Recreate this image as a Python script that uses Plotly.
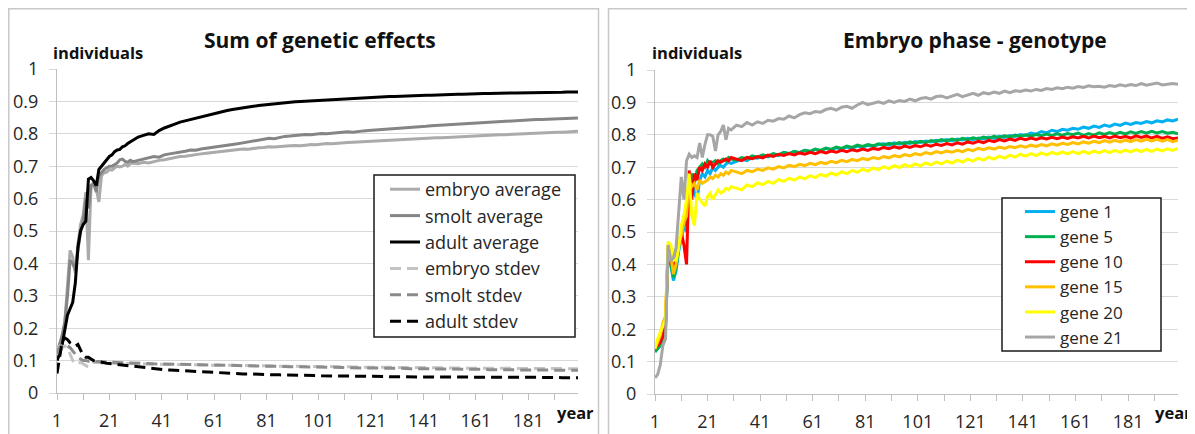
import plotly.graph_objects as go

# ---------------- data ----------------
years = list(range(1, 31)) + list(range(32, 201, 2))

x_tick_vals = [1, 11, 21, 31, 41, 51, 61, 71, 81, 91, 101, 111, 121, 131, 141, 151, 161, 171, 181, 191]
x_tick_text = ["1", "", "21", "", "41", "", "61", "", "81", "", "101", "", "121", "", "141", "", "161", "", "181", ""]
y_tick_vals = [0, 0.1, 0.2, 0.3, 0.4, 0.5, 0.6, 0.7, 0.8, 0.9, 1.0]
y_tick_text = ["0", "0.1", "0.2", "0.3", "0.4", "0.5", "0.6", "0.7", "0.8", "0.9", "1"]

# Left panel: Sum of genetic effects
embryo_avg = [0.13, 0.15, 0.17, 0.22, 0.32, 0.44, 0.42, 0.37, 0.46, 0.52,
              0.55, 0.62, 0.41, 0.64, 0.65, 0.63, 0.59, 0.67, 0.68, 0.682,
              0.69, 0.688, 0.695, 0.70, 0.698, 0.70, 0.705, 0.70, 0.708, 0.71] + \
             [0.708, 0.712, 0.71, 0.715, 0.718, 0.72, 0.724, 0.726, 0.73, 0.731,
              0.734, 0.736, 0.738, 0.74, 0.742, 0.744, 0.746, 0.748, 0.75, 0.751,
              0.753, 0.752, 0.755, 0.757, 0.758, 0.76, 0.759, 0.761, 0.762, 0.763,
              0.764, 0.763, 0.765, 0.767, 0.766, 0.768, 0.77, 0.769, 0.771, 0.772,
              0.773, 0.774, 0.775, 0.776, 0.777, 0.778, 0.779, 0.78, 0.781, 0.781,
              0.782, 0.783, 0.784, 0.785, 0.786, 0.786, 0.787, 0.788, 0.788, 0.789,
              0.79, 0.79, 0.791, 0.792, 0.793, 0.794, 0.795, 0.795, 0.796, 0.797,
              0.797, 0.798, 0.799, 0.799, 0.80, 0.80, 0.801, 0.802, 0.803, 0.804,
              0.805, 0.805, 0.806, 0.807, 0.808]

smolt_avg = [0.13, 0.15, 0.18, 0.22, 0.30, 0.41, 0.40, 0.38, 0.44, 0.50,
             0.53, 0.60, 0.57, 0.64, 0.645, 0.62, 0.67, 0.68, 0.69, 0.695,
             0.70, 0.70, 0.705, 0.71, 0.72, 0.722, 0.715, 0.712, 0.718, 0.714] + \
            [0.718, 0.722, 0.725, 0.73, 0.728, 0.735, 0.738, 0.74, 0.744, 0.746,
             0.75, 0.749, 0.753, 0.755, 0.757, 0.76, 0.761, 0.764, 0.767, 0.769,
             0.772, 0.775, 0.777, 0.78, 0.783, 0.786, 0.785, 0.789, 0.792, 0.793,
             0.795, 0.797, 0.798, 0.797, 0.80, 0.801, 0.80, 0.802, 0.803, 0.804,
             0.806, 0.805, 0.808, 0.809, 0.81, 0.811, 0.812, 0.813, 0.815, 0.816,
             0.817, 0.818, 0.82, 0.821, 0.822, 0.823, 0.825, 0.826, 0.826, 0.828,
             0.829, 0.83, 0.831, 0.832, 0.834, 0.835, 0.835, 0.837, 0.838, 0.839,
             0.84, 0.84, 0.841, 0.842, 0.842, 0.843, 0.844, 0.844, 0.845, 0.846,
             0.846, 0.847, 0.847, 0.848, 0.849]

adult_avg = [0.10, 0.12, 0.15, 0.20, 0.24, 0.26, 0.28, 0.34, 0.45, 0.50,
             0.52, 0.53, 0.66, 0.665, 0.655, 0.64, 0.69, 0.70, 0.71, 0.72,
             0.73, 0.735, 0.745, 0.75, 0.752, 0.76, 0.763, 0.77, 0.775, 0.782] + \
            [0.79, 0.795, 0.80, 0.798, 0.81, 0.818, 0.825, 0.83, 0.836, 0.84,
             0.845, 0.85, 0.853, 0.857, 0.862, 0.865, 0.868, 0.872, 0.875, 0.878,
             0.881, 0.883, 0.885, 0.887, 0.889, 0.891, 0.893, 0.894, 0.896, 0.897,
             0.899, 0.90, 0.901, 0.902, 0.903, 0.904, 0.905, 0.906, 0.907, 0.908,
             0.909, 0.91, 0.91, 0.911, 0.912, 0.913, 0.913, 0.914, 0.915, 0.915,
             0.916, 0.916, 0.917, 0.918, 0.918, 0.919, 0.919, 0.92, 0.92, 0.921,
             0.921, 0.922, 0.922, 0.923, 0.923, 0.923, 0.924, 0.924, 0.925, 0.925,
             0.925, 0.926, 0.926, 0.926, 0.927, 0.927, 0.927, 0.927, 0.928, 0.928,
             0.928, 0.928, 0.929, 0.929, 0.929]

embryo_sd = [0.14, 0.145, 0.14, 0.145, 0.14, 0.12, 0.10, 0.09, 0.09, 0.095,
             0.09, 0.085, 0.08, 0.09, 0.095, 0.094, 0.093, 0.093, 0.092, 0.092,
             0.092, 0.092, 0.091, 0.091, 0.091, 0.091, 0.09, 0.09, 0.09, 0.09] + \
            [0.09, 0.09, 0.089, 0.089, 0.089, 0.089, 0.088, 0.088, 0.088, 0.088,
             0.087, 0.087, 0.087, 0.087, 0.086, 0.086, 0.086, 0.086, 0.085, 0.085,
             0.085, 0.085, 0.084, 0.084, 0.084, 0.084, 0.083, 0.083, 0.083, 0.083,
             0.083, 0.082, 0.082, 0.082, 0.082, 0.082, 0.081, 0.081, 0.081, 0.081,
             0.081, 0.08, 0.08, 0.08, 0.08, 0.08, 0.08, 0.079, 0.079, 0.079,
             0.079, 0.079, 0.079, 0.078, 0.078, 0.078, 0.078, 0.078, 0.078, 0.077,
             0.077, 0.077, 0.077, 0.077, 0.077, 0.077, 0.076, 0.076, 0.076, 0.076,
             0.076, 0.076, 0.076, 0.076, 0.075, 0.075, 0.075, 0.075, 0.075, 0.075,
             0.075, 0.075, 0.075, 0.075, 0.075]

smolt_sd = [0.12, 0.14, 0.15, 0.15, 0.145, 0.14, 0.13, 0.12, 0.11, 0.105,
            0.10, 0.10, 0.098, 0.10, 0.098, 0.097, 0.097, 0.096, 0.096, 0.095,
            0.095, 0.095, 0.094, 0.094, 0.094, 0.093, 0.093, 0.093, 0.092, 0.092] + \
           [0.092, 0.091, 0.091, 0.09, 0.09, 0.09, 0.089, 0.089, 0.089, 0.088,
            0.088, 0.087, 0.087, 0.087, 0.086, 0.086, 0.086, 0.085, 0.085, 0.085,
            0.084, 0.084, 0.084, 0.083, 0.083, 0.083, 0.082, 0.082, 0.082, 0.081,
            0.081, 0.081, 0.08, 0.08, 0.08, 0.08, 0.079, 0.079, 0.079, 0.079,
            0.078, 0.078, 0.078, 0.078, 0.077, 0.077, 0.077, 0.077, 0.076, 0.076,
            0.076, 0.076, 0.075, 0.075, 0.075, 0.075, 0.075, 0.074, 0.074, 0.074,
            0.074, 0.074, 0.073, 0.073, 0.073, 0.073, 0.073, 0.072, 0.072, 0.072,
            0.072, 0.072, 0.072, 0.071, 0.071, 0.071, 0.071, 0.071, 0.071, 0.071,
            0.07, 0.07, 0.07, 0.07, 0.07]

adult_sd = [0.06, 0.11, 0.16, 0.17, 0.165, 0.155, 0.15, 0.145, 0.15, 0.13,
            0.115, 0.11, 0.11, 0.105, 0.10, 0.098, 0.096, 0.095, 0.094, 0.092,
            0.091, 0.09, 0.089, 0.088, 0.087, 0.086, 0.085, 0.084, 0.083, 0.082] + \
           [0.08, 0.078, 0.077, 0.075, 0.073, 0.072, 0.071, 0.07, 0.069, 0.068,
            0.067, 0.066, 0.065, 0.064, 0.063, 0.062, 0.061, 0.061, 0.06, 0.06,
            0.059, 0.059, 0.058, 0.058, 0.057, 0.057, 0.056, 0.056, 0.056, 0.055,
            0.055, 0.055, 0.054, 0.054, 0.054, 0.053, 0.053, 0.053, 0.053, 0.052,
            0.052, 0.052, 0.052, 0.051, 0.051, 0.051, 0.051, 0.051, 0.05, 0.05,
            0.05, 0.05, 0.05, 0.05, 0.05, 0.049, 0.049, 0.049, 0.049, 0.049,
            0.049, 0.049, 0.049, 0.049, 0.048, 0.048, 0.048, 0.048, 0.048, 0.048,
            0.048, 0.048, 0.048, 0.048, 0.048, 0.048, 0.048, 0.048, 0.048, 0.048,
            0.048, 0.047, 0.047, 0.047, 0.047]

# Right panel: Embryo phase - genotype
gene1 = [0.13, 0.14, 0.15, 0.17, 0.20, 0.45, 0.40, 0.35, 0.38, 0.44,
         0.48, 0.52, 0.50, 0.66, 0.67, 0.62, 0.60, 0.66, 0.68, 0.67,
         0.69, 0.68, 0.70, 0.69, 0.70, 0.705, 0.70, 0.71, 0.715, 0.712] + \
        [0.718, 0.725, 0.72, 0.73, 0.728, 0.735, 0.732, 0.74, 0.736, 0.745,
         0.742, 0.748, 0.745, 0.752, 0.748, 0.755, 0.751, 0.758, 0.754, 0.76,
         0.756, 0.762, 0.758, 0.765, 0.761, 0.768, 0.764, 0.77, 0.772, 0.768,
         0.775, 0.771, 0.777, 0.773, 0.779, 0.776, 0.781, 0.778, 0.783, 0.78,
         0.785, 0.781, 0.787, 0.784, 0.789, 0.785, 0.79, 0.787, 0.793, 0.789,
         0.795, 0.792, 0.798, 0.795, 0.801, 0.798, 0.805, 0.802, 0.81, 0.806,
         0.814, 0.81, 0.817, 0.814, 0.82, 0.817, 0.824, 0.82, 0.827, 0.823,
         0.83, 0.826, 0.833, 0.829, 0.836, 0.832, 0.838, 0.835, 0.841, 0.837,
         0.843, 0.84, 0.846, 0.843, 0.848]

gene5 = [0.13, 0.14, 0.15, 0.18, 0.21, 0.44, 0.40, 0.36, 0.39, 0.45,
         0.49, 0.55, 0.52, 0.66, 0.68, 0.65, 0.69, 0.70, 0.71, 0.70,
         0.72, 0.71, 0.715, 0.72, 0.71, 0.72, 0.725, 0.72, 0.73, 0.725] + \
        [0.722, 0.73, 0.726, 0.735, 0.731, 0.738, 0.734, 0.742, 0.738, 0.746,
         0.742, 0.749, 0.745, 0.752, 0.749, 0.756, 0.752, 0.759, 0.755, 0.762,
         0.758, 0.765, 0.761, 0.768, 0.764, 0.77, 0.766, 0.772, 0.768, 0.774,
         0.77, 0.776, 0.772, 0.778, 0.774, 0.78, 0.776, 0.782, 0.779, 0.785,
         0.781, 0.787, 0.783, 0.789, 0.785, 0.791, 0.787, 0.793, 0.789, 0.795,
         0.791, 0.797, 0.793, 0.799, 0.795, 0.80, 0.796, 0.801, 0.797, 0.802,
         0.798, 0.803, 0.799, 0.804, 0.80, 0.805, 0.798, 0.804, 0.799, 0.806,
         0.801, 0.807, 0.802, 0.808, 0.803, 0.809, 0.804, 0.81, 0.805, 0.811,
         0.806, 0.81, 0.805, 0.808, 0.803]

gene10 = [0.14, 0.15, 0.16, 0.18, 0.22, 0.45, 0.42, 0.38, 0.42, 0.47,
          0.50, 0.46, 0.40, 0.69, 0.60, 0.68, 0.66, 0.70, 0.69, 0.71,
          0.70, 0.72, 0.70, 0.71, 0.72, 0.715, 0.72, 0.725, 0.72, 0.73] + \
         [0.725, 0.72, 0.73, 0.726, 0.733, 0.729, 0.737, 0.733, 0.74, 0.736,
          0.742, 0.738, 0.744, 0.74, 0.746, 0.742, 0.748, 0.744, 0.75, 0.746,
          0.752, 0.748, 0.754, 0.75, 0.756, 0.752, 0.758, 0.755, 0.761, 0.757,
          0.763, 0.759, 0.765, 0.761, 0.767, 0.763, 0.769, 0.765, 0.771, 0.767,
          0.773, 0.769, 0.775, 0.771, 0.778, 0.774, 0.78, 0.776, 0.783, 0.779,
          0.785, 0.781, 0.787, 0.783, 0.789, 0.785, 0.79, 0.786, 0.791, 0.787,
          0.792, 0.788, 0.793, 0.789, 0.794, 0.79, 0.795, 0.79, 0.796, 0.791,
          0.795, 0.79, 0.796, 0.791, 0.795, 0.79, 0.797, 0.792, 0.796, 0.79,
          0.795, 0.789, 0.794, 0.788, 0.79]

gene15 = [0.14, 0.16, 0.18, 0.22, 0.24, 0.46, 0.43, 0.37, 0.40, 0.46,
          0.49, 0.53, 0.55, 0.66, 0.64, 0.65, 0.63, 0.66, 0.65, 0.655,
          0.66, 0.67, 0.665, 0.675, 0.67, 0.68, 0.675, 0.685, 0.68, 0.69] + \
         [0.685, 0.68, 0.69, 0.686, 0.694, 0.69, 0.698, 0.694, 0.702, 0.698,
          0.706, 0.702, 0.709, 0.705, 0.712, 0.708, 0.715, 0.711, 0.718, 0.714,
          0.721, 0.717, 0.724, 0.72, 0.727, 0.723, 0.73, 0.726, 0.733, 0.729,
          0.736, 0.732, 0.739, 0.735, 0.742, 0.738, 0.745, 0.741, 0.748, 0.744,
          0.75, 0.746, 0.752, 0.748, 0.755, 0.751, 0.758, 0.754, 0.76, 0.756,
          0.762, 0.758, 0.764, 0.76, 0.766, 0.762, 0.768, 0.764, 0.77, 0.766,
          0.772, 0.768, 0.774, 0.77, 0.776, 0.772, 0.778, 0.774, 0.78, 0.776,
          0.782, 0.777, 0.783, 0.778, 0.784, 0.779, 0.785, 0.78, 0.786, 0.781,
          0.786, 0.78, 0.785, 0.779, 0.783]

gene20 = [0.14, 0.17, 0.19, 0.21, 0.23, 0.47, 0.46, 0.42, 0.41, 0.45,
          0.52, 0.55, 0.60, 0.68, 0.55, 0.52, 0.62, 0.60, 0.59, 0.58,
          0.61, 0.62, 0.60, 0.615, 0.63, 0.62, 0.625, 0.635, 0.63, 0.64] + \
         [0.635, 0.63, 0.645, 0.64, 0.652, 0.646, 0.656, 0.65, 0.662, 0.656,
          0.666, 0.66, 0.67, 0.664, 0.674, 0.668, 0.678, 0.672, 0.682, 0.676,
          0.686, 0.68, 0.69, 0.684, 0.694, 0.688, 0.698, 0.692, 0.702, 0.696,
          0.705, 0.699, 0.708, 0.702, 0.71, 0.704, 0.713, 0.707, 0.716, 0.71,
          0.719, 0.713, 0.722, 0.716, 0.725, 0.719, 0.728, 0.722, 0.731, 0.725,
          0.734, 0.728, 0.737, 0.731, 0.74, 0.734, 0.742, 0.736, 0.744, 0.738,
          0.746, 0.74, 0.747, 0.741, 0.748, 0.742, 0.749, 0.743, 0.75, 0.744,
          0.751, 0.745, 0.752, 0.746, 0.753, 0.747, 0.754, 0.748, 0.755, 0.749,
          0.756, 0.75, 0.757, 0.752, 0.758]

gene21 = [0.05, 0.06, 0.09, 0.15, 0.17, 0.46, 0.41, 0.42, 0.45, 0.55,
          0.67, 0.60, 0.72, 0.74, 0.73, 0.735, 0.73, 0.775, 0.73, 0.77,
          0.80, 0.80, 0.795, 0.75, 0.80, 0.81, 0.83, 0.785, 0.82, 0.815] + \
         [0.83, 0.825, 0.838, 0.83, 0.84, 0.835, 0.845, 0.842, 0.85, 0.848,
          0.858, 0.852, 0.862, 0.868, 0.865, 0.872, 0.87, 0.878, 0.882, 0.876,
          0.885, 0.888, 0.882, 0.892, 0.90, 0.893, 0.898, 0.902, 0.897, 0.905,
          0.90, 0.906, 0.903, 0.91, 0.905, 0.912, 0.915, 0.91, 0.918, 0.92,
          0.914, 0.92, 0.925, 0.918, 0.924, 0.928, 0.922, 0.93, 0.926, 0.932,
          0.928, 0.935, 0.93, 0.936, 0.934, 0.938, 0.935, 0.94, 0.937, 0.943,
          0.94, 0.945, 0.942, 0.947, 0.944, 0.949, 0.946, 0.951, 0.948, 0.95,
          0.947, 0.952, 0.949, 0.954, 0.951, 0.955, 0.952, 0.958, 0.953, 0.956,
          0.96, 0.954, 0.957, 0.958, 0.956]

for name, s in [("embryo_avg", embryo_avg), ("smolt_avg", smolt_avg), ("adult_avg", adult_avg),
                ("embryo_sd", embryo_sd), ("smolt_sd", smolt_sd), ("adult_sd", adult_sd),
                ("gene1", gene1), ("gene5", gene5), ("gene10", gene10), ("gene15", gene15),
                ("gene20", gene20), ("gene21", gene21)]:
    if len(s) != len(years):
        raise ValueError(f"{name}: {len(s)} != {len(years)}")

# ---------------- figure ----------------
# The page body keeps its default 8px margin, so the figure is drawn 8px
# right/down of the window corner; all screen positions below are shifted back.
OFF = 8
W, H = 1195 - OFF, 434 - OFF
FONT = "Open Sans"
TXT = "#262626"
DASH = "11px,6px"

# plot-area pixel geometry in window pixels (left / right panels)
L_X0, L_X1, L_Y0, L_Y1 = 57, 578, 393, 69
R_X0, R_X1, R_Y0, R_Y1 = 655, 1178, 394, 70
X_MIN, X_MAX = 1, 200

fig = go.Figure()

left_series = [
    ("embryo average", embryo_avg, "#ABABAB", "solid"),
    ("smolt average", smolt_avg, "#858585", "solid"),
    ("adult average", adult_avg, "#000000", "solid"),
    ("embryo stdev", embryo_sd, "#C4C4C4", DASH),
    ("smolt stdev", smolt_sd, "#8C8C8C", DASH),
    ("adult stdev", adult_sd, "#000000", DASH),
]
for name, vals, col, dash in left_series:
    fig.add_trace(go.Scatter(x=years, y=vals, name=name, mode="lines",
                             line=dict(color=col, width=3, dash=dash),
                             xaxis="x", yaxis="y", legend="legend", hoverinfo="skip"))

right_series = [
    ("gene 1", gene1, "#00B0F0"),
    ("gene 5", gene5, "#00B050"),
    ("gene 10", gene10, "#FF0000"),
    ("gene 15", gene15, "#FFC000"),
    ("gene 20", gene20, "#FFFF00"),
    ("gene 21", gene21, "#A6A6A6"),
]
for name, vals, col in right_series:
    fig.add_trace(go.Scatter(x=years, y=vals, name=name, mode="lines",
                             line=dict(color=col, width=3),
                             xaxis="x2", yaxis="y2", legend="legend2", hoverinfo="skip"))

def px_x(p):
    return (p - OFF) / W

def px_y(p):
    return 1 - (p - OFF) / H

def to_data(px, py, x0, x1, y0, y1):
    # convert a pixel position inside a plot area into that axis' coordinates
    xd = X_MIN + (px - x0) * (X_MAX - X_MIN) / (x1 - x0)
    yd = (y0 - py) / (y0 - y1)
    return xd, yd

xaxis_common = dict(range=[X_MIN, X_MAX], showgrid=False, zeroline=False, showline=True,
                    linecolor="#BFBFBF", linewidth=1, ticks="outside", ticklen=6,
                    tickcolor="#BFBFBF", tickwidth=1, tickvals=x_tick_vals, ticktext=x_tick_text,
                    tickfont=dict(family=FONT, size=18, color=TXT), ticklabelstandoff=5,
                    fixedrange=True, automargin=False)
yaxis_common = dict(range=[0, 1], showgrid=True, gridcolor="#D9D9D9", gridwidth=1, zeroline=False,
                    showline=True, linecolor="#BFBFBF", linewidth=1, ticks="outside", ticklen=7,
                    tickcolor="#D9D9D9", tickwidth=1, tickvals=y_tick_vals, ticktext=y_tick_text,
                    tickfont=dict(family=FONT, size=18, color=TXT), ticklabelstandoff=7,
                    fixedrange=True, automargin=False)

fig.update_layout(
    width=W, height=H, autosize=False,
    margin=dict(l=0, r=0, t=0, b=0, pad=0, autoexpand=False),
    paper_bgcolor="white", plot_bgcolor="white",
    font=dict(family=FONT, color=TXT),
    xaxis=dict(domain=[px_x(L_X0), px_x(L_X1)], anchor="y", **xaxis_common),
    yaxis=dict(domain=[px_y(L_Y0), px_y(L_Y1)], anchor="x", **yaxis_common),
    xaxis2=dict(domain=[px_x(R_X0), px_x(R_X1)], anchor="y2", **xaxis_common),
    yaxis2=dict(domain=[px_y(R_Y0), px_y(R_Y1)], anchor="x2", **yaxis_common),
    legend=dict(x=px_x(385), y=px_y(171), xanchor="left", yanchor="top",
                bgcolor="rgba(0,0,0,0)", borderwidth=0,
                font=dict(family=FONT, size=18, color=TXT), tracegroupgap=0),
    legend2=dict(x=px_x(1020), y=px_y(194), xanchor="left", yanchor="top",
                 bgcolor="rgba(0,0,0,0)", borderwidth=0,
                 font=dict(family=FONT, size=17, color=TXT), tracegroupgap=0),
    showlegend=True,
)

# panel frames
fig.add_shape(type="rect", xref="paper", yref="paper",
              x0=px_x(8.8), x1=px_x(598.5), y0=px_y(445), y1=px_y(8.8),
              line=dict(color="#C8C8C8", width=1.5), fillcolor="rgba(0,0,0,0)", layer="below")
fig.add_shape(type="rect", xref="paper", yref="paper",
              x0=px_x(608.5), x1=px_x(1193.5), y0=px_y(445), y1=px_y(8.8),
              line=dict(color="#C8C8C8", width=1.5), fillcolor="rgba(0,0,0,0)", layer="below")

# legend boxes (cover gridlines, drawn under traces)
lx0, ly0 = to_data(374, 337, L_X0, L_X1, L_Y0, L_Y1)
lx1, ly1 = to_data(575, 175, L_X0, L_X1, L_Y0, L_Y1)
fig.add_shape(type="rect", xref="x", yref="y", x0=lx0, x1=lx1, y0=ly0, y1=ly1,
              line=dict(color="#1A1A1A", width=1.5), fillcolor="white", layer="between")
rx0, ry0 = to_data(1002, 351, R_X0, R_X1, R_Y0, R_Y1)
rx1, ry1 = to_data(1161, 198, R_X0, R_X1, R_Y0, R_Y1)
fig.add_shape(type="rect", xref="x2", yref="y2", x0=rx0, x1=rx1, y0=ry0, y1=ry1,
              line=dict(color="#1A1A1A", width=1.5), fillcolor="white", layer="between")

# titles and axis captions
ann = [
    dict(text="<b>Sum of genetic effects</b>", x=px_x(320), y=px_y(40), xanchor="center", yanchor="middle", size=21),
    dict(text="<b>Embryo phase - genotype</b>", x=px_x(975), y=px_y(40), xanchor="center", yanchor="middle", size=21),
    dict(text="<b>individuals</b>", x=px_x(51), y=px_y(53), xanchor="left", yanchor="middle", size=16.5),
    dict(text="<b>individuals</b>", x=px_x(650), y=px_y(53), xanchor="left", yanchor="middle", size=16.5),
    dict(text="<b>year</b>", x=px_x(555), y=px_y(412), xanchor="left", yanchor="middle", size=16.5),
    dict(text="<b>year</b>", x=px_x(1153), y=px_y(412), xanchor="left", yanchor="middle", size=16.5),
]
for a in ann:
    fig.add_annotation(text=a["text"], x=a["x"], y=a["y"], xref="paper", yref="paper",
                       xanchor=a["xanchor"], yanchor=a["yanchor"], showarrow=False,
                       font=dict(family=FONT, size=a["size"], color="#111111"))

fig.write_html("out.html")
